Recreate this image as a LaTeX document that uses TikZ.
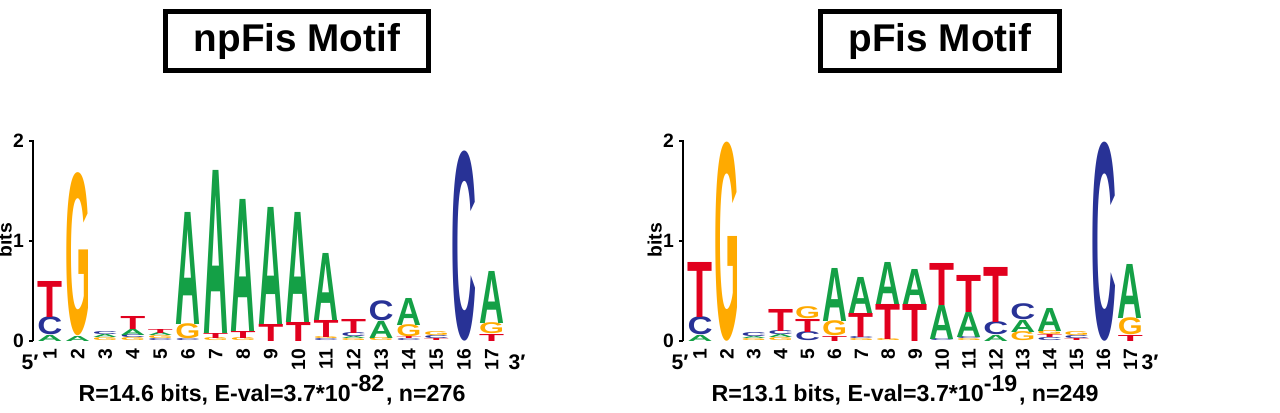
\documentclass[tikz,border=0pt]{standalone}
\usepackage{fontspec}
\setmainfont{Liberation Sans}
\usepackage{graphicx}
\usetikzlibrary{positioning}

\definecolor{colA}{RGB}{20,160,70}
\definecolor{colC}{RGB}{40,50,150}
\definecolor{colG}{RGB}{255,170,0}
\definecolor{colT}{RGB}{225,0,30}

% one stacked column of the logo: x position, list of letter/height
\newcommand{\logocol}[2]{%
  \xdef\ybase{0}%
  \foreach \L/\h in {#2}{%
    \node[glyph, text=col\L] at (#1, 341-\ybase*100) {\resizebox*{0.25cm}{\h cm}{\textbf{\L}}};
    \pgfmathsetmacro\ynew{\ybase+\h}\xdef\ybase{\ynew}%
  }%
}

\begin{document}
\begin{tikzpicture}[x=0.01cm, y=-0.01cm,
    glyph/.style={anchor=south, inner sep=0pt, outer sep=0pt},
    title box/.style={draw, line width=1.5pt, minimum height=0.57cm, inner xsep=8pt, font=\fontsize{11}{13}\selectfont\bfseries},
    tick label/.style={font=\fontsize{5.5}{6}\selectfont\bfseries, inner sep=1pt},
    end label/.style={font=\fontsize{6}{7}\selectfont\bfseries},
    caption/.style={font=\fontsize{6.6}{8}\selectfont\bfseries}
]
\useasboundingbox (0,0) rectangle (1280,412);

% --- Titles ---
\node[title box] (npTitle) at (297,41) {npFis Motif};
\node[title box] (pTitle) at (940,41) {pFis Motif};

% --- Axes ---
\foreach \ox/\name in {33/np, 683/p} {
  \draw[line width=0.6pt] (\ox,341) -- (\ox,140);
  \foreach \v in {0,1,2} {
    \draw[line width=0.6pt] (\ox,341-\v*100) -- (\ox-4,341-\v*100);
    \node[tick label, anchor=east] (\name-tick\v) at (\ox-5,341-\v*100) {\v};
  }
  \node[tick label, anchor=east] (\name-bits) at (\ox-17,240) {\rotatebox{90}{bits}};
}

% --- Position numbers ---
\foreach \i in {1,...,17} {
  \node[tick label, anchor=north] (np-pos\i) at (50+\i*27.6-27.6,345) {\rotatebox{90}{\i}};
  \node[tick label, anchor=north] (p-pos\i) at (700+\i*26.9-26.9,345) {\rotatebox{90}{\i}};
}
\node[end label] (np-five) at (30,362) {5′};
\node[end label] (np-three) at (517,362) {3′};
\node[end label] (p-five) at (680,362) {5′};
\node[end label] (p-three) at (1150,362) {3′};

% --- npFis logo ---
\logocol{50}{A/0.06, C/0.18, T/0.36}
\logocol{77.6}{A/0.05, G/1.63}
\logocol{105.2}{G/0.03, A/0.03, C/0.03}
\logocol{132.8}{G/0.03, C/0.03, A/0.06, T/0.13}
\logocol{160.4}{C/0.02, G/0.03, A/0.03, T/0.04}
\logocol{188}{C/0.02, G/0.15, A/1.12}
\logocol{215.6}{G/0.03, T/0.05, A/1.63}
\logocol{243.2}{G/0.03, T/0.07, A/1.32}
\logocol{270.8}{T/0.17, A/1.17}
\logocol{298.4}{T/0.19, A/1.10}
\logocol{326}{C/0.02, G/0.02, T/0.17, A/0.67}
\logocol{353.6}{G/0.02, A/0.02, C/0.04, T/0.14}
\logocol{381.2}{G/0.03, A/0.17, C/0.20}
\logocol{408.8}{C/0.02, T/0.02, G/0.12, A/0.27}
\logocol{436.4}{T/0.02, C/0.03, G/0.04}
\logocol{464}{C/1.90}
\logocol{491.6}{T/0.07, G/0.11, A/0.52}

% --- pFis logo ---
\logocol{700}{A/0.06, C/0.18, T/0.55}
\logocol{726.9}{G/1.99}
\logocol{753.8}{G/0.02, A/0.02, C/0.04}
\logocol{780.7}{G/0.03, A/0.03, C/0.04, T/0.22}
\logocol{807.6}{C/0.09, T/0.13, G/0.12}
\logocol{834.5}{T/0.05, G/0.15, A/0.53}
\logocol{861.4}{G/0.02, C/0.02, T/0.24, A/0.36}
\logocol{888.3}{G/0.02, T/0.35, A/0.42}
\logocol{915.2}{T/0.37, A/0.35}
\logocol{942.1}{C/0.02, A/0.34, T/0.42}
\logocol{969}{G/0.02, C/0.02, A/0.25, T/0.37}
\logocol{995.9}{A/0.06, C/0.13, T/0.55}
\logocol{1022.8}{G/0.09, A/0.12, C/0.16}
\logocol{1049.7}{C/0.03, T/0.03, G/0.04, A/0.23}
\logocol{1076.6}{T/0.02, C/0.03, G/0.04}
\logocol{1103.5}{C/1.99}
\logocol{1130.4}{T/0.06, G/0.17, A/0.54}

% --- Captions ---
\node[caption] (npCaption) at (272,390) {R=14.6 bits, E-val=3.7*10$^{\textbf{-82}}$, n=276};
\node[caption] (pCaption) at (905,390) {R=13.1 bits, E-val=3.7*10$^{\textbf{-19}}$, n=249};
\end{tikzpicture}
\end{document}
